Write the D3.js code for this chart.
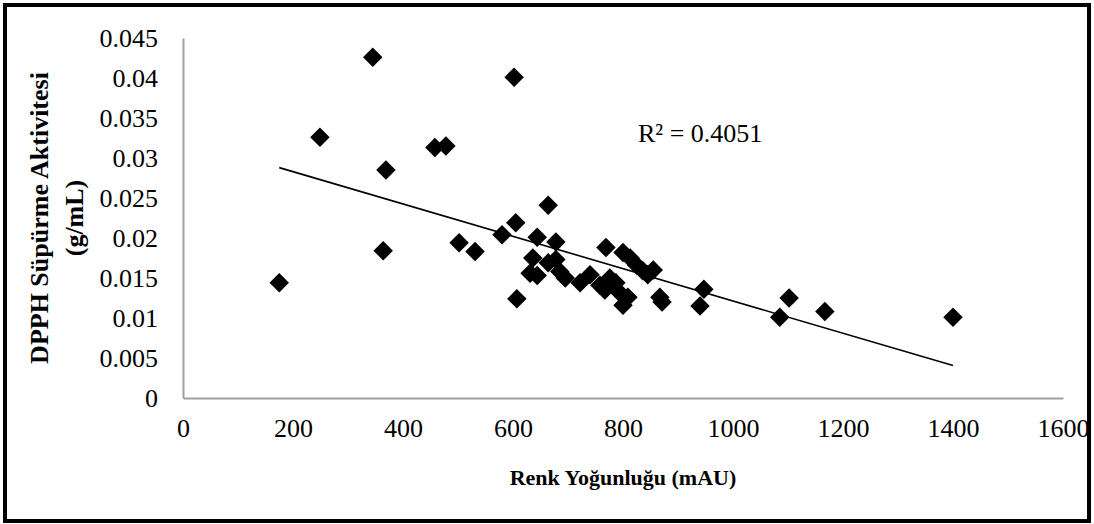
<!DOCTYPE html>
<html>
<head>
<meta charset="utf-8">
<script src="https://cdn.jsdelivr.net/npm/d3@7"></script>
<style>
  body { margin: 0; background: #fff; }
  svg { display: block; font-family: "Liberation Serif", "Times New Roman", serif; }
</style>
</head>
<body>
<div id="chart"></div>
<script>
// color intensity (mAU) vs DPPH scavenging activity (g/mL)
const renk = [175, 249, 345, 369, 364, 458, 478, 502, 531, 602,
  580, 605, 607, 664, 644, 636, 631, 644, 664, 678,
  678, 685, 695, 722, 740, 758, 769, 776, 767, 800,
  813, 825, 836, 845, 855, 787, 795, 800, 809, 867,
  871, 947, 940, 1085, 1102, 1167, 1400];
const dpph = [0.0144, 0.0326, 0.0426, 0.0285, 0.0184, 0.0313, 0.0315, 0.0194, 0.0183, 0.0401,
  0.0204, 0.0219, 0.0124, 0.0241, 0.0201, 0.0175, 0.0156, 0.0153, 0.0169, 0.0195,
  0.0173, 0.0158, 0.0150, 0.0144, 0.0154, 0.0141, 0.0188, 0.0150, 0.0135, 0.0182,
  0.0175, 0.0166, 0.0159, 0.0154, 0.0160, 0.0144, 0.0131, 0.0116, 0.0126, 0.0126,
  0.0120, 0.0136, 0.0115, 0.0101, 0.0125, 0.0108, 0.0101];

// linear trendline as shown on the chart
const trendSlope = -2.02e-5;
const trendIntercept = 0.03233;
const rSquaredLabel = "R² = 0.4051";

const xTicks = [0, 200, 400, 600, 800, 1000, 1200, 1400, 1600];
const yTicks = [0, 0.005, 0.01, 0.015, 0.02, 0.025, 0.03, 0.035, 0.04, 0.045];

const W = 1094, H = 524;
const margin = { left: 183, top: 38, right: 31, bottom: 126 };
const width = W - margin.left - margin.right;
const height = H - margin.top - margin.bottom;

const svgRoot = d3.select("#chart").append("svg")
  .attr("width", W)
  .attr("height", H);

// outer frame
svgRoot.append("rect")
  .attr("x", 5).attr("y", 5)
  .attr("width", W - 10).attr("height", H - 8)
  .attr("fill", "#fff")
  .attr("stroke", "#000")
  .attr("stroke-width", 4);

const svg = svgRoot.append("g")
  .attr("transform", `translate(${margin.left},${margin.top})`);

const x = d3.scaleLinear().domain([0, 1600]).range([0, width]);
const y = d3.scaleLinear().domain([0, 0.045]).range([height, 0]);

// axes (no tick marks, gray domain line)
const xAxisG = svg.append("g")
  .attr("transform", `translate(0,${height})`)
  .call(d3.axisBottom(x).tickValues(xTicks).tickSize(0).tickPadding(21).tickFormat(d3.format("d")));

const yAxisG = svg.append("g")
  .call(d3.axisLeft(y).tickValues(yTicks).tickSize(0).tickPadding(25).tickFormat(d => d === 0 ? "0" : String(+d.toFixed(3))));

[xAxisG, yAxisG].forEach(g => {
  g.select(".domain").attr("stroke", "#a0a0a0").attr("stroke-width", 2);
  g.selectAll("text")
    .attr("fill", "#000")
    .style("font-family", "'Liberation Serif', serif")
    .style("font-size", "26px");
});

// trendline over the data range
const xExt = d3.extent(renk);
svg.append("line")
  .attr("x1", x(xExt[0])).attr("y1", y(trendIntercept + trendSlope * xExt[0]))
  .attr("x2", x(xExt[1])).attr("y2", y(trendIntercept + trendSlope * xExt[1]))
  .attr("stroke", "#000")
  .attr("stroke-width", 1.6);

// diamond markers
const diamond = d3.symbol().type(d3.symbolSquare).size(190);
svg.append("g")
  .selectAll("path")
  .data(renk.map((r, i) => ({ r, d: dpph[i] })))
  .join("path")
  .attr("d", diamond)
  .attr("transform", p => `translate(${x(p.r)},${y(p.d)}) rotate(45)`)
  .attr("fill", "#000");

// R² label
svg.append("text")
  .attr("x", 455)
  .attr("y", 104)
  .style("font-size", "26px")
  .text(rSquaredLabel);

// axis titles
svgRoot.append("text")
  .attr("x", margin.left + width / 2)
  .attr("y", 485)
  .attr("text-anchor", "middle")
  .style("font-size", "22px")
  .style("font-weight", "bold")
  .text("Renk Yoğunluğu (mAU)");

const yTitle = svgRoot.append("text")
  .attr("transform", `translate(0,${margin.top + height / 2}) rotate(-90)`)
  .attr("text-anchor", "middle")
  .style("font-size", "26px")
  .style("font-weight", "bold");
yTitle.append("tspan").attr("x", 0).attr("y", 48).text("DPPH Süpürme Aktivitesi");
yTitle.append("tspan").attr("x", 0).attr("y", 83).text("(g/mL)");
</script>
</body>
</html>
